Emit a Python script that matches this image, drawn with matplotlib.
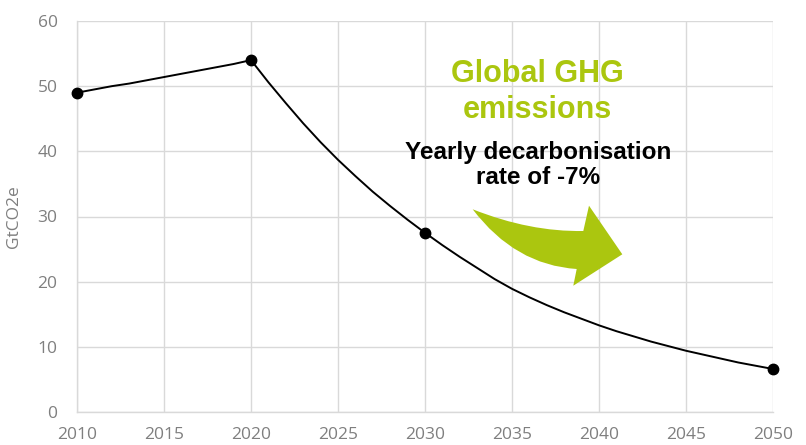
import matplotlib
matplotlib.use("Agg")
import matplotlib.pyplot as plt
from matplotlib.path import Path
from matplotlib.patches import PathPatch

# Emissions pathway (GtCO2e)
years = list(range(2010, 2051))
emissions = [
    49.0, 49.5, 50.0, 50.4, 50.9, 51.4, 51.9, 52.4, 52.9, 53.4,   # 2010-2019
    54.0, 50.6, 47.4, 44.3, 41.4, 38.7, 36.2, 33.8, 31.6, 29.5,   # 2020-2029
    27.5, 25.6, 23.8, 22.1, 20.4, 18.9, 17.6, 16.4, 15.3, 14.3,   # 2030-2039
    13.3, 12.4, 11.6, 10.8, 10.1, 9.4, 8.8, 8.2, 7.6, 7.1,        # 2040-2049
    6.6,                                                          # 2050
]
marker_years = [2010, 2020, 2030, 2050]

x_ticks = list(range(2010, 2051, 5))
y_ticks = list(range(0, 61, 10))

GREEN = "#abc60f"
GRID = "#d9d9d9"
TICK = "#7f7f7f"

W, H = 806, 445
fig = plt.figure(figsize=(W / 100, H / 100), dpi=100)
ax = fig.add_axes([77 / W, (H - 412) / H, (773 - 77) / W, (412 - 21) / H])

ax.plot(years, emissions, color="black", lw=1.4, zorder=3)
mx = [y for y in years if y in marker_years]
my = [emissions[years.index(y)] for y in mx]
ax.plot(mx, my, "o", color="black", ms=7.5, zorder=4, clip_on=False)

ax.set_xlim(2010, 2050)
ax.set_ylim(0, 60)
ax.set_xticks(x_ticks)
ax.set_yticks(y_ticks)
ax.grid(True, color=GRID, lw=1)
ax.set_axisbelow(True)
for side in ["top", "right"]:
    ax.spines[side].set_visible(False)
for side in ["left", "bottom"]:
    ax.spines[side].set_color(GRID)
    ax.spines[side].set_linewidth(1)
ax.tick_params(length=0, colors=TICK, labelsize=12.5)
ax.tick_params(axis="y", pad=14)
ax.tick_params(axis="x", pad=11)
for lab in ax.get_xticklabels() + ax.get_yticklabels():
    lab.set_family("Open Sans")

ax.set_ylabel("GtCO2e", color=TICK, fontsize=12.5, family="Open Sans")
ax.yaxis.set_label_coords((22 - 77) / (773 - 77), (412 - 217) / (412 - 21))

# annotation text
fig.text(537 / W, 1 - 92 / H, "Global GHG\nemissions", color=GREEN,
         fontsize=22, fontweight="bold", family="Liberation Sans",
         ha="center", va="center", linespacing=1.3)
fig.text(538 / W, 1 - 165 / H, "Yearly decarbonisation\nrate of -7%", color="black",
         fontsize=17.5, fontweight="bold", family="Liberation Sans",
         ha="center", va="center", linespacing=1.12)

# curved green arrow, outline in figure pixels
outline = [
    ((472.7, 209.3), Path.MOVETO),
    ((530, 232), Path.CURVE3), ((583.3, 231), Path.CURVE3),
    ((589, 205.7), Path.LINETO),
    ((622.3, 254.3), Path.LINETO),
    ((573.3, 285.7), Path.LINETO),
    ((576.7, 269), Path.LINETO),
    ((515, 265), Path.CURVE3), ((472.7, 209.3), Path.CURVE3),
    ((472.7, 209.3), Path.CLOSEPOLY),
]
verts = [(px / W, 1 - py / H) for (px, py), _ in outline]
codes = [c for _, c in outline]
fig.patches.append(PathPatch(Path(verts, codes), transform=fig.transFigure,
                             facecolor=GREEN, edgecolor="none", zorder=5))

fig.savefig("out.png", dpi=100)
